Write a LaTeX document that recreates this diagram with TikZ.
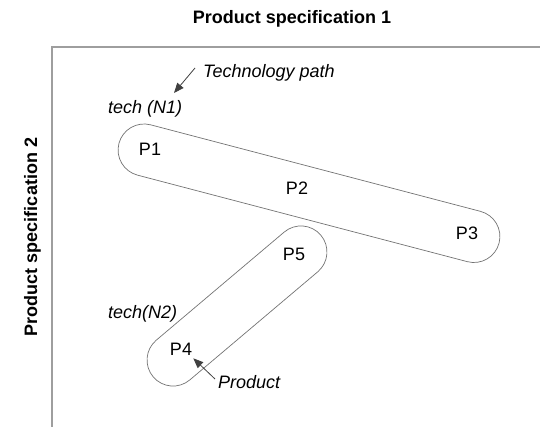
\documentclass[tikz,border=0pt]{standalone}
\usepackage{fontspec}
\setmainfont{Liberation Sans}
\usetikzlibrary{shapes.misc,arrows.meta}
\begin{document}
\begin{tikzpicture}[x=1pt,y=-1pt,
  txt/.style={inner sep=0pt,font=\fontsize{18}{21}\selectfont},
  itxt/.style={txt,font=\fontsize{18}{21}\selectfont\itshape},
  btxt/.style={txt,font=\fontsize{18}{21}\selectfont\bfseries},
  axis/.style={draw=black!38,line width=1.4pt},
  capsule/.style={draw=black!55,line width=0.7pt,rounded rectangle,minimum height=52pt,inner sep=0pt},
  pointer/.style={draw=black!75,line width=0.8pt,-{Triangle[length=10pt,width=8pt]}}]
\useasboundingbox (0,0) rectangle (540,427);
% axes
\coordinate (ax0) at (52,427);
\coordinate (ax1) at (52,47);
\coordinate (ax2) at (540,47);
\draw[axis] (ax0) -- (ax1) -- (ax2);
\node[btxt,anchor=base] (t1) at (292,23.3) {Product specification 1};
\node[btxt,anchor=base,rotate=90] (t2) at (37,237) {Product specification 2};
% capsules
\node[capsule,minimum width=393pt,rotate=-14.7] (c1) at (309,193.25) {};
\node[capsule,minimum width=219.5pt,rotate=40.2] (c2) at (237,306) {};
% points
\node[txt] (p1) at (150,149) {P1};
\node[txt] (p2) at (297,188) {P2};
\node[txt] (p3) at (467,233) {P3};
\node[txt] (p5) at (294,254) {P5};
\node[txt] (p4) at (181,349.5) {P4};
% labels
\node[itxt,anchor=base west] (tn1) at (108,114) {tech (N1)};
\node[itxt,anchor=base west] (tp) at (203,77.3) {Technology path};
\node[itxt,anchor=base west] (tn2) at (108,318.3) {tech(N2)};
\node[itxt,anchor=base west] (pr) at (218,388.3) {Product};
% pointers
\coordinate (a1s) at (195,68);
\coordinate (a1e) at (174,93);
\coordinate (a2s) at (215,379);
\coordinate (a2e) at (193.3,358.3);
\draw[pointer] (a1s) -- (a1e);
\draw[pointer] (a2s) -- (a2e);
\end{tikzpicture}
\end{document}
